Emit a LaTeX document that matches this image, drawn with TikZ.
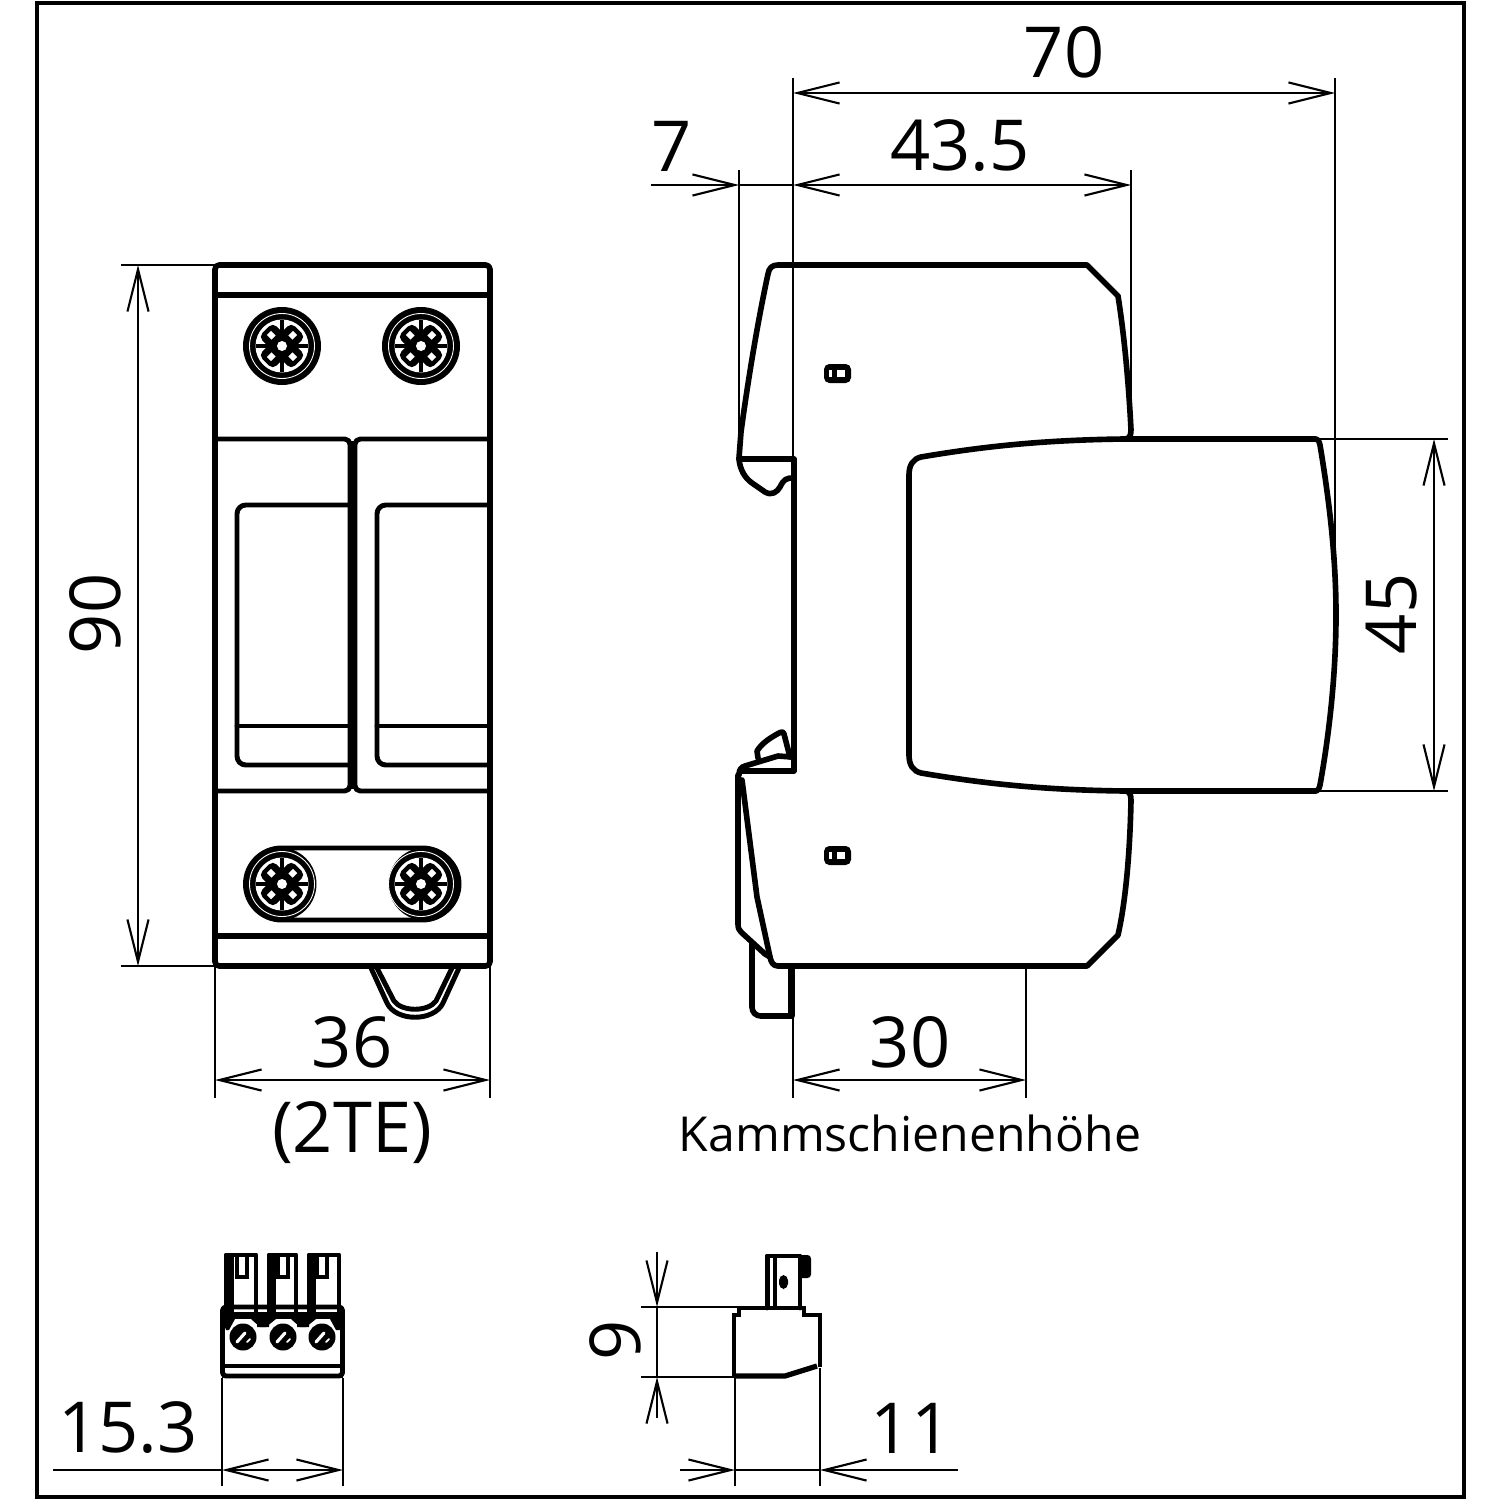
\documentclass[tikz,border=0pt]{standalone}
\usepackage{fontspec}
\setmainfont{Open Sans}
\usetikzlibrary{arrows.meta}

\begin{document}
\begin{tikzpicture}[
    x=0.01cm, y=-0.01cm,
    bodyline/.style={line width=1.6pt, line join=round, line cap=round},
    midline/.style={line width=1.4pt, line join=round, line cap=round},
    extline/.style={line width=0.6pt},
    dimline/.style={line width=0.6pt, >={Straight Barb[length=12pt,width=6pt,line width=0.6pt]}},
    bigdim/.style={font=\fontsize{20}{24}\selectfont, inner sep=0pt},
    smalldim/.style={font=\fontsize{13.7}{16}\selectfont, inner sep=0pt}
]
\useasboundingbox (0,0) rectangle (1500,1500);
% Frame
\draw[line width=1.2pt] (37,3) rectangle (1464,1497);

% Front view
\draw[bodyline, rounded corners=1.2pt] (215,265) rectangle (490,966);
\draw[bodyline] (215,295) -- (490,295);
\draw[bodyline] (215,936) -- (490,936);
\fill (350,441) rectangle (355,789);
\draw[midline, rounded corners=1.5pt] (215,439) -- (350,439) -- (350,791) -- (215,791);
\draw[midline, rounded corners=1.5pt] (490,439) -- (355,439) -- (355,791) -- (490,791);
\draw[midline, rounded corners=2.5pt] (350,505) -- (237,505) -- (237,765) -- (350,765);
\draw[midline, rounded corners=2.5pt] (490,505) -- (377,505) -- (377,765) -- (490,765);
\draw[midline] (237,726) -- (350,726);
\draw[midline] (377,726) -- (490,726);
% Screw heads
\fill (282,346) circle (39);
\fill (421,346) circle (39);
\fill (280,884) circle (36.5);
\fill (425,884) circle (36.5);
\draw[midline] (281.5,848) -- (422.5,848) arc (-90:90:36) -- (281.5,920) arc (90:270:36);
\foreach \sx/\sy in {282/346, 421/346, 282/884, 421/884}
{
  \begin{scope}[shift={(\sx,\sy)}]
    \draw[white, line width=0.25pt] (0,0) circle (32.5);
    \fill[white] (0,0) circle (26.5);
    \foreach \sa in {45,135}
      \fill[rotate=\sa, rounded corners=1.5pt] (-23,-10) rectangle (23,10);
    \foreach \sa in {45,135,225,315}
      \fill[white, rotate=\sa] (12,-3) rectangle (18.5,3);
    \draw[line width=1pt] (-26,0) -- (26,0) (0,-26) -- (0,26);
    \fill (0,0) circle (10);
    \fill[white] (0,0) circle (5);
  \end{scope}
}
% Clip below the front view
\draw[midline] (371,968) -- (387,1003) .. controls (396,1022) and (434,1022) .. (443,1003) -- (459,968);
\draw[midline] (377,968) -- (394,1001) .. controls (402,1012) and (428,1012) .. (436,1001) -- (452,968);

% Side view, upper housing and module
\draw[bodyline] (739,458) -- (741,432) .. controls (748,380) and (758,320) .. (768,274)
  .. controls (769,268) and (772,265) .. (778,265) -- (1087,265) -- (1118,296)
  .. controls (1125,340) and (1129,390) .. (1131,430) .. controls (1131,436) and (1129,439) .. (1125,439)
  -- (1316,439) .. controls (1318,439) and (1319,441) .. (1320,445) .. controls (1330,505) and (1336,560) .. (1336,615)
  .. controls (1336,670) and (1330,730) .. (1320,785) .. controls (1319,789) and (1318,791) .. (1316,791) -- (1125,791)
  .. controls (1129,791) and (1131,794) .. (1131,800) .. controls (1130,850) and (1126,900) .. (1118,935)
  -- (1087,966) -- (778,966) .. controls (773,966) and (771,962) .. (770,957)
  -- (757,897) -- (742,780);
\draw[bodyline] (1125,439) .. controls (1040,440) and (980,447) .. (921,457)
  .. controls (913,459) and (909,465) .. (909,475) -- (909,755)
  .. controls (909,765) and (913,771) .. (921,773) .. controls (980,783) and (1040,790) .. (1125,791);
% Side view, rail side
\draw[bodyline] (739,459) -- (794,459) -- (794,771) -- (740,771);
\draw[bodyline] (739,459) .. controls (740,470) and (745,478) .. (752,483) -- (765,492)
  .. controls (772,496) and (777,492) .. (780,487) .. controls (784,479) and (786,478) .. (794,478);
\draw[bodyline] (739,775) .. controls (739,770) and (741,767) .. (745,766) -- (778,756) -- (792,757);
\draw[bodyline] (790,757) -- (784,734) .. controls (783,731) and (781,732) .. (779,733)
  .. controls (770,738) and (762,743) .. (757,751) -- (758,758);
\draw[bodyline] (738,775) -- (738,924) .. controls (738,928) and (739,930) .. (741,932) -- (765,954) -- (770,957);
\draw[bodyline, rounded corners=2.5pt] (752,943) -- (752,1016) -- (792,1016);
\draw[line width=2pt] (791.5,966) -- (791.5,1016);
% Small latch windows
\foreach \wy in {374, 856}
{
  \fill[rounded corners=1.5pt] (824,\wy-10) rectangle (851,\wy+9);
  \fill[white] (829,\wy-4) rectangle (832,\wy+3);
  \fill[white] (837,\wy-4) rectangle (845,\wy+3);
}

% Terminal plug, front
\draw[midline, fill=white] (226,1312) -- (226,1255) -- (256,1255) -- (256,1312);
\draw[midline, fill=white] (269,1312) -- (269,1255) -- (296,1255) -- (296,1312);
\draw[midline, fill=white] (309,1312) -- (309,1255) -- (339,1255) -- (339,1312);
\fill (226,1255) rectangle (234,1312);
\fill (269,1255) rectangle (276,1312);
\fill (309,1255) rectangle (316,1312);
\foreach \nx in {237,278,317}
  \draw[line width=0.9pt] (\nx,1256) -- (\nx,1277) -- (\nx+10,1277) -- (\nx+10,1256);
\draw[midline, rounded corners=1pt] (222.5,1376) -- (222.5,1307) -- (342.5,1307) -- (342.5,1376) -- cycle;
\fill (222,1312) rectangle (343,1319);
\fill (222,1319) -- (235,1319) -- (229,1330) -- (226,1330) -- cycle;
\foreach \tx in {243,283}
{
  \fill (\tx+8,1319) -- (\tx+26,1319) -- (\tx+26,1327) -- (\tx+17,1327) -- cycle;
  \fill (\tx+33,1319) -- (\tx+14,1319) -- (\tx+14,1327) -- (\tx+23,1327) -- cycle;
}
\fill (343,1319) -- (330,1319) -- (336,1330) -- (340,1330) -- cycle;
\draw[line width=1.4pt] (222,1366) -- (343,1366);
\draw[line width=1.4pt] (222,1376) -- (343,1376);
\foreach \px in {243,283,322}
{
  \fill (\px,1337) circle (13.5);
  \draw[white, line width=0.9pt, line cap=round] (\px-6,1342) -- (\px+2,1333);
  \draw[white, line width=0.5pt, line cap=round] (\px+4,1342) -- (\px+7,1339);
}

% Terminal plug, side
\draw[midline] (767,1308) -- (767,1256) -- (800,1256) -- (800,1308);
\draw[line width=1.4pt] (775,1256) -- (775,1308);
\draw[line width=1.4pt] (768,1256) -- (768,1308);
\fill[rounded corners=1pt] (798,1255) rectangle (811,1278);
\fill[rounded corners=1.5pt] (779,1275) rectangle (788,1289);
\draw[line width=1.3pt] (734,1376) -- (734,1315) -- (739,1315) -- (739,1308) -- (804,1308) -- (804,1315) -- (820,1315) -- (820,1367);
\draw[line width=1.5pt, line join=round] (734,1376) -- (785,1376) -- (817,1366);

% Dimensions
\draw[extline] (793,78) -- (793,459);
\draw[extline] (1335,78) -- (1335,560);
\draw[extline] (1131,170) -- (1131,430);
\draw[extline] (739,170) -- (739,458);
\draw[dimline, <->] (793,93) -- (1335,93);
\node[bigdim] (dim70) at (1064,52) {70};
\draw[dimline, <->] (793,185) -- (1131,185);
\node[bigdim] (dim435) at (960,146) {43.5};
\draw[dimline, ->] (651,185) -- (739,185);
\draw[extline] (739,185) -- (793,185);
\node[bigdim] (dim7) at (672,146) {7};

\draw[extline] (121,265) -- (215,265);
\draw[extline] (121,966) -- (215,966);
\draw[dimline, <->] (138,265) -- (138,966);
\node[bigdim, rotate=90] (dim90) at (95,614) {90};

\draw[extline] (215,966) -- (215,1098);
\draw[extline] (490,966) -- (490,1098);
\draw[dimline, <->] (215,1080) -- (490,1080);
\node[bigdim] (dim36) at (352,1042) {36};
\node[bigdim] (dim2te) at (352,1133) {(2TE)};

\draw[extline] (793,1016) -- (793,1098);
\draw[extline] (1026,966) -- (1026,1098);
\draw[dimline, <->] (793,1080) -- (1026,1080);
\node[bigdim] (dim30) at (910,1042) {30};
\node[smalldim] (kamm) at (910,1133) {Kammschienenhöhe};

\draw[extline] (1318,439) -- (1448,439);
\draw[extline] (1318,791) -- (1448,791);
\draw[dimline, <->] (1434,439) -- (1434,791);
\node[bigdim, rotate=90] (dim45) at (1392,614) {45};

\draw[extline] (222,1378) -- (222,1486);
\draw[extline] (343,1378) -- (343,1486);
\draw[extline] (53,1470) -- (222,1470);
\draw[dimline, <->] (222,1470) -- (343,1470);
\node[bigdim] (dim153) at (128,1428) {15.3};

\draw[extline] (735,1378) -- (735,1486);
\draw[extline] (820,1368) -- (820,1486);
\draw[dimline, ->] (680,1470) -- (735,1470);
\draw[extline] (735,1470) -- (820,1470);
\draw[dimline, ->] (958,1470) -- (820,1470);
\node[bigdim] (dim11) at (911,1428) {11};

\draw[extline] (641,1307) -- (740,1307);
\draw[extline] (641,1377) -- (735,1377);
\draw[dimline, ->] (657,1252) -- (657,1307);
\draw[extline] (657,1307) -- (657,1377);
\draw[dimline, ->] (657,1418) -- (657,1377);
\node[bigdim, rotate=90] (dim9) at (615,1340) {9};
\end{tikzpicture}
\end{document}
